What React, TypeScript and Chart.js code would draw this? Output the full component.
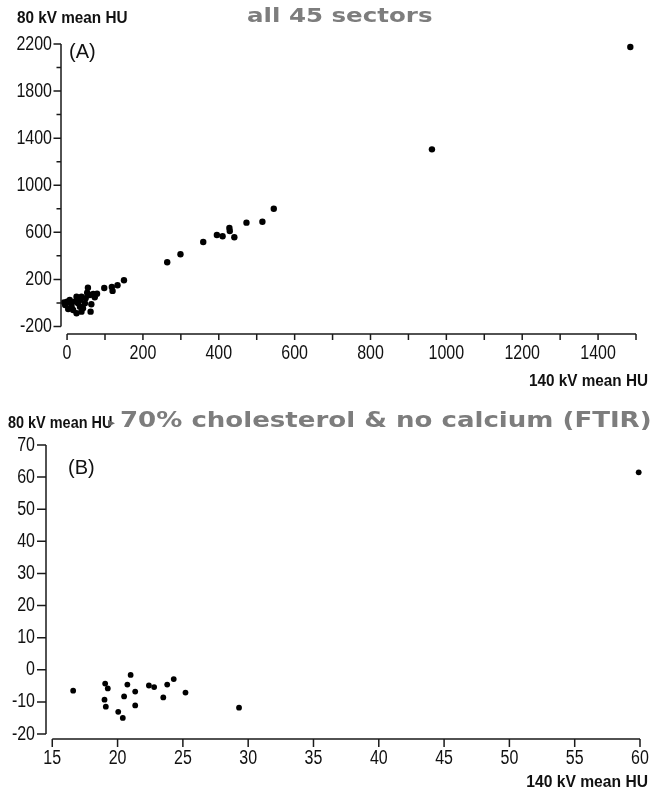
import React, { useEffect, useRef } from "react";
import { Chart, registerables } from "chart.js";
Chart.register(...registerables);

// ---------- Panel A: all 45 sectors ----------
const aKv140 = [1485, 962, 545, 515, 473, 428, 429, 441, 410, 395, 359, 299, 264, 150, 133, 118, 120, 98, 79,
  55, 53, 69, 73, 64, 62, 25, 3, 0, 7, -5, 12, 20, 34, 34, 42, 47, 38, 16, 29, 49, 60, 25, 10, 38, -8];
const aKv80 = [2175, 1305, 800, 690, 682, 637, 611, 558, 566, 577, 518, 413, 345, 193, 150, 136, 102, 127, 79,
  130, 87, 76, 48, -11, -74, -88, -51, 10, 25, -17, -32, 11, 25, -32, -45, -3, -74, -60, -3, 40, 68, 53, -3, 53, 5];
const aXTicks = [0, 100, 200, 300, 400, 500, 600, 700, 800, 900, 1000, 1100, 1200, 1300, 1400, 1500];
const aXLabels = [0, 200, 400, 600, 800, 1000, 1200, 1400];
const aYTicks = [-200, 0, 200, 400, 600, 800, 1000, 1200, 1400, 1600, 1800, 2000, 2200];
const aYLabels = [-200, 200, 600, 1000, 1400, 1800, 2200];

// ---------- Panel B: >70% cholesterol & no calcium ----------
const bKv140 = [16.6, 19.05, 19.25, 19.0, 19.1, 20.05, 20.4, 20.5, 20.75, 21.0, 21.35, 21.35, 22.4, 22.8, 23.5, 23.8, 24.3, 25.2, 29.3, 59.9];
const bKv80 = [-6.5, -4.3, -5.8, -9.3, -11.5, -13.1, -15.0, -8.3, -4.6, -1.6, -6.8, -11.1, -4.9, -5.4, -8.6, -4.6, -2.9, -7.1, -11.8, 61.5];
const bXTicks = [15, 20, 25, 30, 35, 40, 45, 50, 55, 60];
const bYTicks = [-20, -10, 0, 10, 20, 30, 40, 50, 60, 70];

const SANS = "'Liberation Sans', Arial, sans-serif";
const AXIS = "#1a1a1a";
const TICK_FONT = `20px ${SANS}`;
const TICK_SX = 0.8;

type TextItem = { text: string; x: number; y: number; font: string; color: string; align: CanvasTextAlign; sx?: number };

type AxisCfg = {
  xTicks: number[]; xLabels: number[]; xTickLen: number; xLabelDy: number;
  yTicks: number[]; yLabels: number[]; yMajorLen: number; yMinorLen: number; yLabelGap: number;
  texts: TextItem[];
};

function drawText(ctx: CanvasRenderingContext2D, t: TextItem) {
  ctx.save();
  ctx.font = t.font;
  ctx.fillStyle = t.color;
  ctx.textBaseline = "middle";
  ctx.textAlign = t.align;
  ctx.translate(t.x, t.y);
  ctx.scale(t.sx ?? 1, 1);
  ctx.fillText(t.text, 0, 0);
  ctx.restore();
}

function makePlugin(cfg: AxisCfg) {
  return {
    id: "offsetAxes",
    afterDraw(chart: any) {
      const { ctx, chartArea, scales } = chart;
      const xs = scales.x, ys = scales.y;
      const left = chartArea.left, bottom = chartArea.bottom;
      const yFirst = ys.getPixelForValue(cfg.yTicks[0]);
      const yLast = ys.getPixelForValue(cfg.yTicks[cfg.yTicks.length - 1]);
      const xFirst = xs.getPixelForValue(cfg.xTicks[0]);
      const xLast = xs.getPixelForValue(cfg.xTicks[cfg.xTicks.length - 1]);
      ctx.save();
      ctx.strokeStyle = AXIS;
      ctx.lineWidth = 1.5;
      ctx.lineCap = "butt";
      ctx.beginPath();
      ctx.moveTo(left, yFirst);
      ctx.lineTo(left, yLast);
      for (const v of cfg.yTicks) {
        const py = ys.getPixelForValue(v);
        const len = cfg.yLabels.includes(v) ? cfg.yMajorLen : cfg.yMinorLen;
        ctx.moveTo(left - len, py);
        ctx.lineTo(left, py);
      }
      ctx.moveTo(xFirst, bottom);
      ctx.lineTo(xLast, bottom);
      for (const v of cfg.xTicks) {
        const px = xs.getPixelForValue(v);
        ctx.moveTo(px, bottom);
        ctx.lineTo(px, bottom + cfg.xTickLen);
      }
      ctx.stroke();
      for (const v of cfg.yLabels) {
        drawText(ctx, { text: String(v), x: left - cfg.yLabelGap, y: ys.getPixelForValue(v), font: TICK_FONT, color: "#111", align: "right", sx: TICK_SX });
      }
      for (const v of cfg.xLabels) {
        drawText(ctx, { text: String(v), x: xs.getPixelForValue(v), y: bottom + cfg.xLabelDy, font: TICK_FONT, color: "#111", align: "center", sx: TICK_SX });
      }
      for (const t of cfg.texts) drawText(ctx, t);
      ctx.restore();
    },
  };
}

function scaleCfg(min: number, max: number, fit: (s: any) => void) {
  return {
    type: "linear",
    min,
    max,
    afterFit: fit,
    grid: { display: false },
    border: { display: false },
    ticks: { display: false },
  };
}

function buildConfig(p: { xs: number[]; ys: number[]; radius: number; x: any; y: any; padding: any; plugin: any }) {
  return {
    type: "scatter",
    data: {
      datasets: [
        {
          data: p.xs.map((x, i) => ({ x, y: p.ys[i] })),
          pointRadius: p.radius,
          pointHoverRadius: p.radius,
          backgroundColor: "#000",
          borderWidth: 0,
          clip: false,
        },
      ],
    },
    options: {
      animation: false,
      responsive: false,
      devicePixelRatio: 1,
      layout: { padding: p.padding },
      plugins: { legend: { display: false }, title: { display: false }, tooltip: { enabled: false } },
      scales: { x: p.x, y: p.y },
    },
    plugins: [p.plugin],
  } as any;
}

export default function App() {
  const refA = useRef<HTMLCanvasElement>(null);
  const refB = useRef<HTMLCanvasElement>(null);

  useEffect(() => {
    const chartA = new Chart(
      refA.current!,
      buildConfig({
        xs: aKv140,
        ys: aKv80,
        radius: 3.2,
        padding: { top: 44, right: 18, left: 0, bottom: 0 },
        x: scaleCfg(-16, 1500, (s) => { s.height = 56; }),
        y: scaleCfg(-264, 2200, (s) => { s.width = 61; }),
        plugin: makePlugin({
          xTicks: aXTicks, xLabels: aXLabels, xTickLen: 6, xLabelDy: 19,
          yTicks: aYTicks, yLabels: aYLabels, yMajorLen: 7.5, yMinorLen: 4.5, yLabelGap: 9,
          texts: [
            { text: "80 kV mean HU", x: 17, y: 18, font: `bold 17px ${SANS}`, color: "#111", align: "left", sx: 0.9 },
            { text: "all 45 sectors", x: 247, y: 17, font: "bold 19px 'DejaVu Sans', Verdana, sans-serif", color: "#7d7d7d", align: "left", sx: 1.29 },
            { text: "(A)", x: 69, y: 52, font: `20px ${SANS}`, color: "#111", align: "left" },
            { text: "140 kV mean HU", x: 648, y: 381, font: `bold 17px ${SANS}`, color: "#111", align: "right", sx: 0.9 },
          ],
        }),
      })
    );
    const chartB = new Chart(
      refB.current!,
      buildConfig({
        xs: bKv140,
        ys: bKv80,
        radius: 2.9,
        padding: { top: 55, right: 14, left: 0, bottom: 0 },
        x: scaleCfg(14.52, 60, (s) => { s.height = 54; }),
        y: scaleCfg(-21.56, 70, (s) => { s.width = 46; }),
        plugin: makePlugin({
          xTicks: bXTicks, xLabels: bXTicks, xTickLen: 8, xLabelDy: 19,
          yTicks: bYTicks, yLabels: bYTicks, yMajorLen: 9, yMinorLen: 9, yLabelGap: 11,
          texts: [
            { text: "80 kV mean HU", x: 8, y: 33, font: `bold 17px ${SANS}`, color: "#111", align: "left", sx: 0.85 },
            { text: "▸", x: 108, y: 33, font: `14px 'DejaVu Sans', sans-serif`, color: "#666", align: "left" },
            { text: "70% cholesterol & no calcium (FTIR)", x: 120, y: 32, font: "bold 21px 'DejaVu Sans', Verdana, sans-serif", color: "#7d7d7d", align: "left", sx: 1.24 },
            { text: "(B)", x: 68, y: 78, font: `20px ${SANS}`, color: "#111", align: "left" },
            { text: "140 kV mean HU", x: 648, y: 392, font: `bold 17px ${SANS}`, color: "#111", align: "right", sx: 0.92 },
          ],
        }),
      })
    );
    return () => {
      chartA.destroy();
      chartB.destroy();
    };
  }, []);

  return (
    <div style={{ position: "absolute", left: 0, top: 0, width: 654, height: 793, background: "#fff" }}>
      <canvas ref={refA} width={654} height={390} style={{ position: "absolute", left: 0, top: 0, width: 654, height: 390 }} />
      <canvas ref={refB} width={654} height={403} style={{ position: "absolute", left: 0, top: 390, width: 654, height: 403 }} />
    </div>
  );
}
